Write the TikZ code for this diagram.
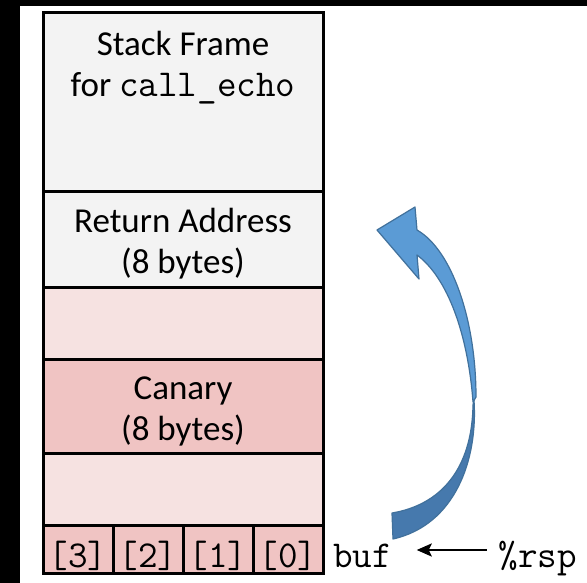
\documentclass[tikz,border=0pt]{standalone}
\usepackage{fontspec}
\setmainfont{Carlito}
\usetikzlibrary{positioning,arrows.meta}
\definecolor{SlotGray}{HTML}{F3F3F3}
\definecolor{SlotPink}{HTML}{F6E2E1}
\definecolor{CanaryPink}{HTML}{F0C4C3}
\definecolor{ArrowLight}{HTML}{5B9BD5}
\definecolor{ArrowDark}{HTML}{4679AD}
\definecolor{ArrowEdge}{HTML}{41719C}
\newcommand{\monofont}{\ttfamily\fontsize{38}{41}\selectfont}

\begin{document}
\begin{tikzpicture}[x=1pt, y=-1pt,
  slot/.style={draw, line width=3pt, minimum width=280pt, outer sep=0pt, inner sep=0pt},
  cell/.style={draw, line width=3pt, fill=CanaryPink, minimum width=70pt, minimum height=48pt,
    outer sep=0pt, inner sep=0pt, text height=36pt, text depth=0pt, font=\monofont},
  slottext/.style={align=center, inner sep=0pt, font=\fontsize{35}{41}\selectfont},
  mono/.style={inner sep=2pt, outer sep=0pt, text height=34pt, text depth=0pt, font=\monofont}]

\useasboundingbox[fill=white] (0,0) rectangle (587,583);
\fill[black] (0,0) rectangle (587,6);
\fill[black] (0,0) rectangle (20,583);

% Pila
\node[slot, fill=SlotGray, minimum height=179pt, anchor=north west] (frame) at (43,13) {};
\node[slot, fill=SlotGray, minimum height=95pt, below=0pt of frame] (ret) {};
\node[slot, fill=SlotPink, minimum height=72pt, below=0pt of ret] (padhi) {};
\node[slot, fill=CanaryPink, minimum height=94pt, below=0pt of padhi] (canary) {};
\node[slot, fill=SlotPink, minimum height=72pt, below=0pt of canary] (padlo) {};

\node[cell, anchor=north west] (b3) at (padlo.south west) {[3]};
\node[cell, right=0pt of b3] (b2) {[2]};
\node[cell, right=0pt of b2] (b1) {[1]};
\node[cell, right=0pt of b1] (b0) {[0]};

\node[slottext] (frametext) at (183,68) {Stack Frame\\for {\monofont call\_echo}};
\node[slottext] (rettext) at (183,244) {Return Address\\(8 bytes)};
\node[slottext] (canarytext) at (183,411) {Canary\\(8 bytes)};

\node[mono, right=8pt of b0.base east, anchor=base west] (buf) {buf};
\node[mono, right=103pt of buf.base east, anchor=base west] (rsp) {\%rsp};
\draw[-{Stealth[length=15pt, width=13pt, inset=3pt]}, line width=2.5pt,
  shorten >=23pt, shorten <=10pt] (rsp.west) -- (buf.east);

% Flecha curva
\filldraw[fill=ArrowDark, draw=ArrowEdge, line width=1.2pt, line join=round]
  (474,400) .. controls (478,460) and (455,525) .. (393,539) -- (392,513)
  .. controls (440,505) and (472,470) .. (473,405) -- cycle;
\filldraw[fill=ArrowLight, draw=ArrowEdge, line width=1.2pt, line join=round]
  (417,230) .. controls (452,250) and (476,320) .. (476,397) -- (473,402)
  .. controls (468,335) and (448,278) .. (417,255) -- (419,279) -- (377,230)
  -- (415,207) -- cycle;

\end{tikzpicture}
\end{document}
